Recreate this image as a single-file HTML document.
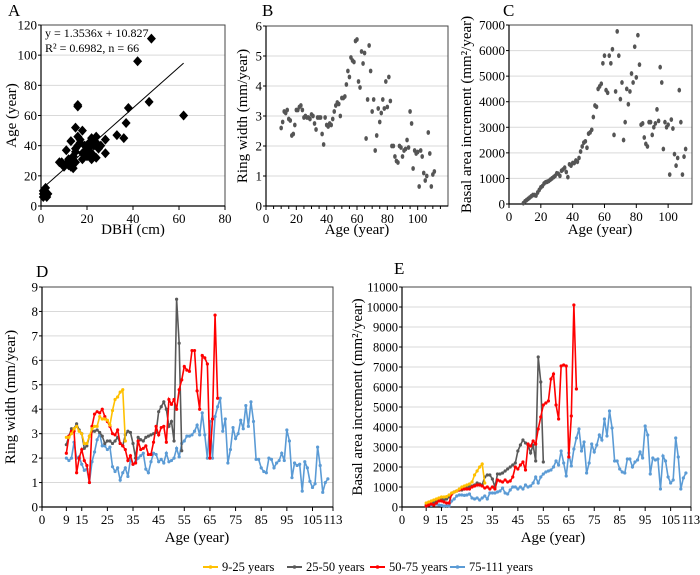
<!DOCTYPE html>
<html><head><meta charset="utf-8"><style>
body{margin:0;background:#fff;}
svg{display:block;font-family:"Liberation Serif",serif;}
</style></head><body>
<svg id="c" width="700" height="575" viewBox="0 0 700 575" xmlns="http://www.w3.org/2000/svg"></svg>
<script>
// Panel A data
const dbhA=[1,1,1.5,2,2,2.5,3,1,2,8,10,11,11,12,13,13,14,14,15,15,15,16,16,17,18,18,19,20,20,21,22,22,23,23,24,24,25,28,28,33,36,37,38,42,47,48,62,16,12,14,17,19,21,22,20,24,25,13,12,16,9,15,18,23,26,22];
const ageA=[8,10,9,7,12,6,8,6,9,29,26,37,28,27,43,30,25,29,52,38,36,67,46,42,50,31,40,37,38,42,35,31,44,40,46,32,39,44,35,47,45,55,65,96,69,111,60,66,28,33,44,36,39,45,33,42,38,26,31,40,29,29,35,33,40,41];
// Panel B (ring width) ages 10..111
const startB=10;
const ringB=[2.6,2.8,3.15,3.1,3.2,2.9,2.85,2.35,2.4,2.7,3.2,3.2,3.3,3.35,3.2,2.95,3.0,2.95,2.95,2.9,3.05,3.0,2.75,2.55,2.95,2.95,2.95,2.4,2.05,2.95,2.7,2.65,2.75,2.7,2.9,3.15,3.35,3.45,3.4,3.0,3.6,3.6,3.65,4.05,4.5,4.3,4.95,4.85,4.8,5.5,5.55,4.15,3.95,5.15,4.75,5.1,2.25,3.55,5.35,4.5,3.15,3.55,1.85,2.35,3.25,2.8,3.1,3.55,3.25,4.15,3.3,4.3,3.5,2.0,2.0,1.65,1.5,1.45,2.0,1.95,1.65,1.85,1.9,2.2,1.95,3.15,2.75,1.25,1.85,1.75,1.8,0.65,1.85,1.65,1.1,0.85,1.0,2.45,1.75,0.65,1.05,1.15];
// Panel C (BAI) ages 9..111
const startC=9;
const baiC=[30,100,150,200,250,300,350,350,330,450,550,650,700,800,850,870,900,950,1000,1050,1100,1200,1180,1100,1300,1350,1420,1250,1050,1550,1500,1600,1600,1700,1650,1800,2050,2250,2400,2450,2200,2750,2800,2900,3400,3850,3800,4500,4600,4700,5500,5800,4450,4350,5800,5500,6050,2700,4400,6750,5800,4100,4750,2500,3200,4500,3900,4400,5100,4750,6150,4950,6600,5450,3100,3150,2600,2350,2250,3200,3200,2700,3000,3150,3700,3250,5350,4750,2150,3200,3000,3100,1150,3300,2950,1950,1500,1800,4450,3200,1150,1850,2150];
// Panel D ring width by group (all start at age 9)
const ringY=[2.85,2.85,3.0,3.2,3.3,3.1,3.0,2.6,2.6,2.9,3.2,3.3,3.3,3.7,3.6,3.6,3.55,3.35,3.95,4.4,4.5,4.7,4.8,2.7];
const ringG=[2.55,2.9,3.2,3.2,3.4,3.15,3.0,2.4,2.5,2.9,3.1,3.1,3.15,3.05,2.9,2.6,2.7,2.7,2.6,2.7,2.85,2.6,2.5,2.95,3.1,3.05,2.6,2.0,2.85,2.75,2.7,2.85,2.9,2.95,3.0,3.05,3.9,4.1,4.3,4.0,3.3,3.5,2.7,8.5,6.7,2.3];
const ringR=[2.2,2.9,3.1,3.1,1.4,2.0,2.35,1.9,1.7,1.0,3.3,3.8,3.9,3.85,4.0,3.7,3.5,3.3,3.0,2.95,3.15,2.6,2.5,2.35,1.9,2.1,1.75,1.8,2.7,2.35,2.4,2.5,2.15,2.15,2.65,3.3,2.95,3.25,3.3,2.65,4.4,4.2,4.4,4.0,4.8,5.2,5.75,5.6,5.55,6.4,6.4,4.75,4.0,6.2,6.1,5.85,2.0,3.6,7.85,4.45];
const ringBl=[2.0,1.9,2.0,2.65,2.0,2.05,1.75,1.5,1.55,1.0,1.85,2.25,2.75,3.0,2.5,2.5,2.35,2.45,1.65,1.45,1.6,1.1,1.4,1.6,1.25,1.95,1.75,1.85,2.0,2.1,2.2,1.55,1.4,1.85,2.2,2.15,1.85,1.95,1.8,2.2,1.85,1.9,2.0,2.4,2.05,2.6,2.7,2.9,2.9,2.95,3.1,3.35,2.95,3.85,2.95,2.0,3.5,2.0,3.7,4.1,4.45,3.1,3.6,1.8,2.35,3.25,2.8,3.0,3.55,3.2,4.15,3.3,4.3,3.5,1.95,1.95,1.6,1.45,1.4,2.0,1.95,1.6,1.8,1.9,2.2,1.9,3.15,2.7,1.2,1.8,1.7,1.75,0.65,1.85,1.6,1.05,0.8,0.95,2.45,1.7,0.6,1.0,1.15];
// Panel E BAI by group (start at age 9)
const baiY=[200,250,300,350,400,450,500,500,520,600,700,750,800,900,1000,1050,1100,1150,1250,1600,1800,2000,2150,1200];
const baiG=[100,150,200,250,300,350,400,350,400,500,650,750,800,850,850,900,950,1000,1050,1100,1200,1150,1100,1500,1600,1600,1400,1000,1650,1650,1700,1800,1900,2000,2100,2200,2800,3100,3350,3200,3100,2700,3100,2300,7500,6250,2250];
const baiR=[50,100,150,100,200,300,300,250,200,200,650,750,800,850,900,900,900,900,1000,1050,1100,1100,1050,950,1000,900,1000,900,1350,1300,1250,1350,1250,1300,1500,2000,1900,2100,2250,1850,3150,3050,3300,3150,3900,4500,5100,5200,5300,6400,6650,5100,4400,7050,7100,7050,2500,4550,10100,5900];
const baiBl=[50,100,80,150,150,100,80,50,60,50,300,400,550,600,600,580,600,650,450,400,450,350,450,550,400,700,700,700,750,800,950,700,650,850,1000,1000,900,1000,900,1100,1000,1050,1200,1500,1200,1500,1650,1750,1800,1850,2000,2300,2100,2800,2200,1550,2700,2050,2900,3450,3900,2800,3250,1700,2200,3150,2750,3100,3600,3350,4400,3550,4800,3950,2300,2300,1900,1750,1700,2400,2400,2000,2250,2350,2750,2450,4050,3600,1650,2450,2350,2400,900,2550,2300,1500,1200,1350,3450,2500,900,1450,1700];
const xTicksDE=[0,9,15,25,35,45,55,65,75,85,95,105,113];

const svg=document.getElementById('c');
const NS='http://www.w3.org/2000/svg';
function el(tag,attrs,parent){const e=document.createElementNS(NS,tag);for(const k in attrs)e.setAttribute(k,attrs[k]);(parent||svg).appendChild(e);return e;}
function txt(s,x,y,size,anchor,parent,rot){const t=el('text',{x:x,y:y,'font-size':size,'text-anchor':anchor||'middle',fill:'#000'},parent);if(rot)t.setAttribute('transform','rotate(-90 '+x+' '+y+')');t.textContent=s;return t;}
function lin(d0,d1,r0,r1){return v=>r0+(v-d0)/(d1-d0)*(r1-r0);}

function panel(o){
  const g=el('g',{});
  
  
  const xs=lin(o.xd[0],o.xd[1],o.L,o.R), ys=lin(o.yd[0],o.yd[1],o.B,o.T);
  for(const v of o.yt){const y=ys(v);
    if(v>o.yd[0]){const gl=el('line',{x1:o.L,x2:o.R,y1:y,y2:y,stroke:'#d9d9d9','stroke-width':1},g);}
    const t=txt(o.yfmt?o.yfmt(v):String(v),o.L-4,y+4.5,o.fs||13,'end',g);
    el('line',{x1:o.L-3,x2:o.L,y1:y,y2:y,stroke:'#000'},g);
  }
  const fr=el('rect',{x:o.L,y:o.T,width:o.R-o.L,height:o.B-o.T,fill:'none',stroke:'#444','stroke-width':1},g);
  
  el('line',{x1:o.L,x2:o.L,y1:o.T,y2:o.B,stroke:'#000','stroke-width':1.2},g);
  el('line',{x1:o.L,x2:o.R,y1:o.B,y2:o.B,stroke:'#000','stroke-width':1.2},g);
  for(const v of o.xt){const x=o.xpos?o.xpos(v):xs(v);
    el('line',{x1:x,x2:x,y1:o.B,y2:o.B+4,stroke:'#000'},g);
    const t=txt(String(v),x,o.B+17,o.fs||13,'middle',g);}
  const xt=txt(o.xtitle,o.xtx,o.xty,15,'middle',g);
  const yt=txt(o.ytitle,o.ytx,(o.T+o.B)/2,15,'middle',g,true);
  const lt=txt(o.letter,o.lx,o.ly,17,'start',g);
  return {g,xs,ys};
}

// Panel A
(function(){
  const p=panel({name:'panel-a-scatter',L:41,R:225,T:25,B:206,xd:[0,80],yd:[0,120],xt:[0,20,40,60,80],yt:[0,20,40,60,80,100,120],
    xtitle:'DBH (cm)',xtx:133,xty:234,ytitle:'Age (year)',ytx:16,letter:'A',lx:8,ly:16});
  for(let i=0;i<dbhA.length;i++){const x=p.xs(dbhA[i]),y=p.ys(ageA[i]);
    const d=el('polygon',{points:`${x},${y-5} ${x+4.5},${y} ${x},${y+5} ${x-4.5},${y}`,fill:'#000'},p.g);
    }
  const f=v=>1.3536*v+10.827;
  const tl=el('line',{x1:p.xs(1),y1:p.ys(f(1)),x2:p.xs(62),y2:p.ys(f(62)),stroke:'#000','stroke-width':1},p.g);
  
  const e1=txt('y = 1.3536x + 10.827',45,37,12,'start',p.g);
  const e2=txt('R² = 0.6982, n = 66',45,52,12,'start',p.g);
})();
// Panel B
(function(){
  const p=panel({name:'panel-b-ring-width',L:266,R:448,T:26,B:206,xd:[0,120],yd:[0,6],xt:[0,20,40,60,80,100],yt:[0,1,2,3,4,5,6],
    xtitle:'Age (year)',xty:234,xtx:357,ytitle:'Ring width (mm/year)',ytx:247,letter:'B',lx:262,ly:16});
  for(let v=5;v<=115;v+=5){if(v%20){const x=p.xs(v);el('line',{x1:x,x2:x,y1:206,y2:209,stroke:'#000'},p.g);}}
  ringB.forEach((v,i)=>{const c=el('ellipse',{cx:p.xs(startB+i),cy:p.ys(v),rx:1.8,ry:2.4,fill:'#555'},p.g);
    });
})();
// Panel C
(function(){
  const p=panel({name:'panel-c-bai',L:509,R:692,T:25,B:204,xd:[0,115],yd:[0,7000],xt:[0,20,40,60,80,100],yt:[0,1000,2000,3000,4000,5000,6000,7000],
    xtitle:'Age (year)',xty:234,xtx:600,ytitle:'Basal area increment (mm²/year)',ytx:471,letter:'C',lx:503,ly:16});
  baiC.forEach((v,i)=>{const c=el('ellipse',{cx:p.xs(startC+i),cy:p.ys(v),rx:1.8,ry:2.4,fill:'#555'},p.g);
    });
})();
const colors={y:'#ffc000',g:'#595959',r:'#ff0000',b:'#5b9bd5'};
function series(p,arr,col,name){
  const pts=arr.map((v,i)=>[p.xs(9+i),p.ys(v)]);
  const pl=el('polyline',{points:pts.map(a=>a.join(',')).join(' '),fill:'none',stroke:col,'stroke-width':1.6},p.g);
  
  pts.forEach(a=>{el('circle',{cx:a[0],cy:a[1],r:1.6,fill:col},p.g);});
}
// Panel D
(function(){
  const xs=lin(-0.5,113,42,333);
  const p=panel({name:'panel-d-ring-width-groups',L:42,R:333,T:287,B:507,xd:[-0.5,113],yd:[0,9],xt:xTicksDE,xpos:v=>v===0?42:xs(v),yt:[0,1,2,3,4,5,6,7,8,9],
    xtitle:'Age (year)',xtx:197,xty:542,ytitle:'Ring width (mm/year)',ytx:15,letter:'D',lx:36,ly:277,fs:13});
  series(p,ringBl,colors.b,'series-75-111-years');
  series(p,ringG,colors.g,'series-25-50-years');
  series(p,ringR,colors.r,'series-50-75-years');
  series(p,ringY,colors.y,'series-9-25-years');
})();
// Panel E
(function(){
  const xs=lin(-0.5,113,402,691);
  const p=panel({name:'panel-e-bai-groups',L:402,R:691,T:287,B:507,xd:[-0.5,113],yd:[0,11000],xt:xTicksDE,xpos:v=>v===0?402:xs(v),yt:[0,1000,2000,3000,4000,5000,6000,7000,8000,9000,10000,11000],
    xtitle:'Age (year)',xtx:553,xty:542,ytitle:'Basal area increment (mm²/year)',ytx:362,letter:'E',lx:394,ly:274,fs:12.5});
  series(p,baiBl,colors.b,'series-75-111-years');
  series(p,baiG,colors.g,'series-25-50-years');
  series(p,baiR,colors.r,'series-50-75-years');
  series(p,baiY,colors.y,'series-9-25-years');
})();
// Legend
(function(){
  const lg=el('g',{});
  
  const items=[['9-25 years',colors.y,203],['25-50 years',colors.g,287],['50-75 years',colors.r,370],['75-111 years',colors.b,450]];
  items.forEach(it=>{
    const e=el('g',{},lg);
    
    el('line',{x1:it[2],x2:it[2]+15,y1:567,y2:567,stroke:it[1],'stroke-width':2},e);
    el('circle',{cx:it[2]+7.5,cy:567,r:1.8,fill:it[1]},e);
    txt(it[0],it[2]+19,571,12.5,'start',e);
  });
})();
</script>
</body></html>
